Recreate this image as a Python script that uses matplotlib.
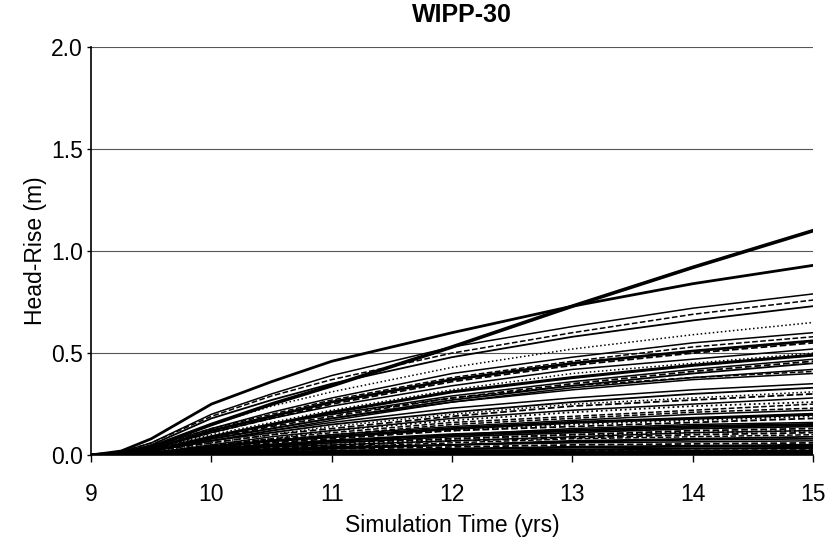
import matplotlib
matplotlib.use("Agg")
import matplotlib.pyplot as plt

plt.rcParams['font.family'] = ['Liberation Sans', 'DejaVu Sans']

# simulation time (yrs) at which head-rise is read
time = [9, 9.25, 9.5, 10, 10.5, 11, 12, 13, 14, 15]

# head-rise (m) realizations
c01 = [0, 0.01, 0.04, 0.15, 0.25, 0.34, 0.53, 0.73, 0.92, 1.10]
c02 = [0, 0.02, 0.08, 0.25, 0.36, 0.46, 0.60, 0.73, 0.84, 0.93]
c03 = [0, 0.015, 0.06, 0.20, 0.30, 0.39, 0.53, 0.63, 0.72, 0.79]
c04 = [0, 0.015, 0.06, 0.19, 0.29, 0.37, 0.50, 0.60, 0.69, 0.76]
c05 = [0, 0.01, 0.05, 0.18, 0.27, 0.35, 0.48, 0.58, 0.66, 0.73]
c06 = [0, 0.01, 0.04, 0.15, 0.24, 0.31, 0.43, 0.52, 0.59, 0.65]
c07 = [0, 0.01, 0.04, 0.13, 0.21, 0.28, 0.40, 0.48, 0.55, 0.60]
c08 = [0, 0.01, 0.03, 0.12, 0.19, 0.26, 0.37, 0.45, 0.51, 0.56]
c09 = [0, 0.01, 0.03, 0.11, 0.18, 0.25, 0.36, 0.44, 0.50, 0.55]
c10 = [0, 0.01, 0.03, 0.11, 0.18, 0.24, 0.34, 0.42, 0.47, 0.52]
c11 = [0, 0.005, 0.02, 0.09, 0.15, 0.21, 0.31, 0.38, 0.44, 0.49]
c12 = [0, 0.005, 0.02, 0.09, 0.15, 0.20, 0.29, 0.36, 0.42, 0.47]
c13 = [0, 0.005, 0.02, 0.08, 0.14, 0.19, 0.28, 0.35, 0.41, 0.46]
c14 = [0, 0.005, 0.02, 0.07, 0.12, 0.17, 0.26, 0.33, 0.38, 0.42]
c15 = [0, 0.005, 0.02, 0.07, 0.11, 0.15, 0.21, 0.26, 0.30, 0.33]
c16 = [0, 0.005, 0.02, 0.06, 0.10, 0.13, 0.19, 0.24, 0.27, 0.30]
c17 = [0, 0.003, 0.01, 0.05, 0.09, 0.12, 0.18, 0.22, 0.25, 0.28]
c18 = [0, 0.003, 0.01, 0.05, 0.08, 0.11, 0.16, 0.19, 0.22, 0.25]
c19 = [0, 0.003, 0.01, 0.04, 0.07, 0.10, 0.14, 0.17, 0.20, 0.22]
c20 = [0, 0.003, 0.01, 0.04, 0.07, 0.09, 0.13, 0.16, 0.18, 0.20]
c21 = [0, 0.002, 0.01, 0.03, 0.06, 0.08, 0.12, 0.14, 0.16, 0.18]
c22 = [0, 0.002, 0.01, 0.03, 0.05, 0.07, 0.10, 0.13, 0.15, 0.16]
c23 = [0, 0.002, 0.01, 0.03, 0.05, 0.07, 0.10, 0.12, 0.14, 0.15]
c24 = [0, 0.002, 0.005, 0.02, 0.04, 0.06, 0.08, 0.10, 0.12, 0.13]
c25 = [0, 0.001, 0.004, 0.02, 0.04, 0.05, 0.07, 0.09, 0.11, 0.12]
c26 = [0, 0.001, 0.004, 0.02, 0.03, 0.04, 0.06, 0.08, 0.09, 0.10]
c27 = [0, 0.001, 0.003, 0.02, 0.03, 0.04, 0.05, 0.07, 0.08, 0.09]
c28 = [0, 0.001, 0.003, 0.01, 0.02, 0.03, 0.05, 0.06, 0.065, 0.07]
c29 = [0, 0.0, 0.002, 0.01, 0.02, 0.03, 0.04, 0.05, 0.055, 0.06]
c30 = [0, 0.0, 0.002, 0.01, 0.015, 0.02, 0.03, 0.04, 0.045, 0.05]
c31 = [0, 0.0, 0.001, 0.005, 0.01, 0.015, 0.02, 0.027, 0.032, 0.035]
c32 = [0, 0.0, 0.0, 0.003, 0.006, 0.01, 0.013, 0.016, 0.018, 0.02]
c33 = [0, 0.0, 0.0, 0.002, 0.003, 0.005, 0.007, 0.008, 0.009, 0.01]
c34 = [0, 0.0, 0.0, 0.0, 0.001, 0.002, 0.003, 0.003, 0.004, 0.004]
c35 = [0, 0.01, 0.03, 0.10, 0.16, 0.22, 0.32, 0.40, 0.45, 0.50]
c36 = [0, 0.005, 0.02, 0.08, 0.13, 0.18, 0.26, 0.32, 0.37, 0.40]
c37 = [0, 0.003, 0.01, 0.05, 0.08, 0.12, 0.17, 0.21, 0.24, 0.26]
c38 = [0, 0.002, 0.01, 0.04, 0.06, 0.09, 0.12, 0.15, 0.17, 0.19]
c39 = [0, 0.001, 0.005, 0.02, 0.035, 0.05, 0.08, 0.10, 0.11, 0.12]
c40 = [0, 0.008, 0.03, 0.09, 0.15, 0.20, 0.28, 0.34, 0.38, 0.41]
c41 = [0, 0.005, 0.02, 0.07, 0.12, 0.16, 0.23, 0.28, 0.32, 0.35]
c42 = [0, 0.003, 0.01, 0.045, 0.075, 0.10, 0.15, 0.18, 0.21, 0.23]
c43 = [0, 0.002, 0.006, 0.025, 0.045, 0.06, 0.09, 0.11, 0.13, 0.14]
c44 = [0, 0.001, 0.004, 0.02, 0.035, 0.045, 0.07, 0.085, 0.10, 0.11]
c45 = [0, 0.001, 0.003, 0.015, 0.025, 0.035, 0.05, 0.065, 0.075, 0.08]
c46 = [0, 0.0, 0.002, 0.008, 0.014, 0.02, 0.03, 0.037, 0.042, 0.045]
c47 = [0, 0.0, 0.001, 0.004, 0.008, 0.011, 0.016, 0.02, 0.023, 0.025]
c48 = [0, 0.01, 0.04, 0.13, 0.20, 0.27, 0.38, 0.46, 0.53, 0.58]
c49 = [0, 0.005, 0.02, 0.08, 0.13, 0.18, 0.27, 0.34, 0.40, 0.45]
c50 = [0, 0.004, 0.015, 0.06, 0.10, 0.14, 0.20, 0.25, 0.28, 0.31]

curves = [c01, c02, c03, c04, c05, c06, c07, c08, c09, c10,
          c11, c12, c13, c14, c15, c16, c17, c18, c19, c20,
          c21, c22, c23, c24, c25, c26, c27, c28, c29, c30,
          c31, c32, c33, c34, c35, c36, c37, c38, c39, c40,
          c41, c42, c43, c44, c45, c46, c47, c48, c49, c50]

# line styles (style, width) per curve
styles = [('-', 2.6), ('-', 2.0), ('-', 1.1), ('--', 1.1), ('-', 1.3),
          (':', 1.1), ('-', 1.1), ('-', 2.0), ('--', 1.3), ('-', 1.1),
          ('-', 2.2), ('-', 1.1), ('--', 1.3), ('-', 1.1), ('-', 1.3),
          ('--', 1.3), ('-', 1.1), ('--', 1.1), ('-', 1.1), ('-', 2.2),
          ('--', 1.3), ('-', 1.1), ('-', 2.2), ('--', 1.3), ('-', 1.1),
          ('--', 1.1), ('-', 1.3), ('-', 1.1), ('--', 1.3), ('-', 1.6),
          ('-', 1.6), ('-', 2.2), ('-', 1.6), ('-', 2.8), (':', 1.1),
          ('-', 1.1), (':', 1.3), (':', 1.3), (':', 1.3), ('--', 1.1),
          ('-', 1.1), ('--', 1.1), ('-', 1.3), ('--', 1.3), ('-', 1.3),
          ('-', 1.5), ('--', 1.3), ('--', 1.1), ('-', 1.3), (':', 1.1)]

fig = plt.figure(figsize=(8.28, 5.47), dpi=100)
ax = fig.add_axes([0.110, 0.168, 0.872, 0.746])

ax.yaxis.grid(True, color='#555555', linewidth=0.8)
ax.set_axisbelow(True)

for vals, (ls, lw) in zip(curves, styles):
    ax.plot(time, vals, color='black', linestyle=ls, linewidth=lw)

ax.set_xlim(9, 15)
ax.set_ylim(0, 2.0)
ax.set_xticks([9, 10, 11, 12, 13, 14, 15])
ax.set_yticks([0.0, 0.5, 1.0, 1.5, 2.0])
ax.set_yticklabels(['0.0', '0.5', '1.0', '1.5', '2.0'])
ax.tick_params(axis='both', labelsize=16.5, direction='out', width=1)
ax.tick_params(axis='x', length=5, pad=15)
ax.tick_params(axis='y', length=3, pad=3)
for s in ['top', 'right']:
    ax.spines[s].set_visible(False)
ax.spines['left'].set_linewidth(1.2)
ax.spines['bottom'].set_linewidth(1.2)

ax.set_xlabel('Simulation Time (yrs)', fontsize=16.5, labelpad=6)
ax.set_ylabel('Head-Rise (m)', fontsize=16.5, labelpad=3)
ax.set_title('WIPP-30', fontsize=18, fontweight='bold', pad=18, x=0.514)

fig.savefig('out.png', dpi=100)
